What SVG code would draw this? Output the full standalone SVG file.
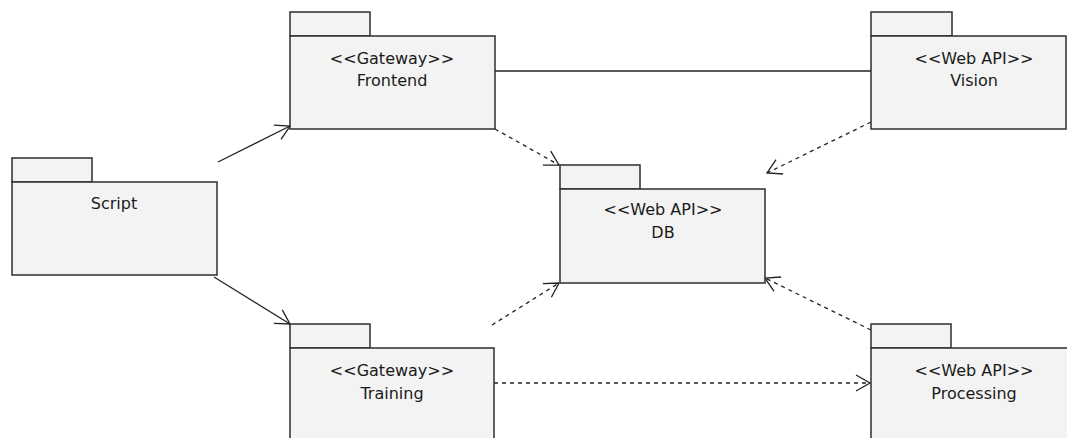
<svg xmlns="http://www.w3.org/2000/svg" width="1067" height="438" viewBox="0 0 1067 438">
<style>
.pk{fill:#f3f3f3;stroke:#2e2e2e;stroke-width:1.5}
.t{font-family:"DejaVu Sans",Verdana,sans-serif;font-size:16px;fill:#1a1a1a;text-anchor:middle}
.c{fill:none;stroke:#222;stroke-width:1.3}
.d{stroke-dasharray:4 4}
</style>
<defs>
<marker id="ah" markerUnits="userSpaceOnUse" markerWidth="20" markerHeight="20" viewBox="-16 -10 18 20" refX="0" refY="0" orient="auto">
<path d="M-14,-8 L0,0 L-14,8" fill="none" stroke="#222" stroke-width="1.3"/>
</marker>
</defs>
<rect width="1067" height="438" fill="#fff"/>
<g id="connectors">
<line class="c" x1="218" y1="162" x2="290" y2="126" marker-end="url(#ah)"/>
<line class="c" x1="214" y1="277" x2="290" y2="324" marker-end="url(#ah)"/>
<line class="c" x1="495" y1="71" x2="871" y2="71"/>
<line class="c d" x1="495" y1="129" x2="559" y2="165" marker-end="url(#ah)"/>
<line class="c d" x1="871" y1="122" x2="767" y2="173" marker-end="url(#ah)"/>
<line class="c d" x1="492" y1="325" x2="559" y2="283" marker-end="url(#ah)"/>
<line class="c d" x1="871" y1="330" x2="765" y2="278" marker-end="url(#ah)"/>
<line class="c d" x1="494" y1="383" x2="870" y2="383" marker-end="url(#ah)"/>
</g>
<g id="script">
<rect class="pk" x="12" y="158" width="80" height="24"/>
<rect class="pk" x="12" y="182" width="205" height="93"/>
<text class="t" x="114" y="209">Script</text>
</g>
<g id="frontend">
<rect class="pk" x="290" y="12" width="80" height="24"/>
<rect class="pk" x="290" y="36" width="205" height="93"/>
<text class="t" x="392" y="64">&lt;&lt;Gateway&gt;&gt;</text>
<text class="t" x="392" y="86">Frontend</text>
</g>
<g id="vision">
<rect class="pk" x="871" y="12" width="81" height="24"/>
<rect class="pk" x="871" y="36" width="195" height="93"/>
<text class="t" x="974" y="64">&lt;&lt;Web API&gt;&gt;</text>
<text class="t" x="974" y="86">Vision</text>
</g>
<g id="db">
<rect class="pk" x="560" y="165" width="80" height="24"/>
<rect class="pk" x="560" y="189" width="205" height="94"/>
<text class="t" x="663" y="215">&lt;&lt;Web API&gt;&gt;</text>
<text class="t" x="663" y="238">DB</text>
</g>
<g id="training">
<rect class="pk" x="290" y="324" width="80" height="24"/>
<rect class="pk" x="290" y="348" width="204" height="100"/>
<text class="t" x="392" y="376">&lt;&lt;Gateway&gt;&gt;</text>
<text class="t" x="392" y="399">Training</text>
</g>
<g id="processing">
<rect class="pk" x="871" y="324" width="80" height="24"/>
<rect class="pk" x="871" y="348" width="205" height="100"/>
<text class="t" x="974" y="376">&lt;&lt;Web API&gt;&gt;</text>
<text class="t" x="974" y="399">Processing</text>
</g>
</svg>
